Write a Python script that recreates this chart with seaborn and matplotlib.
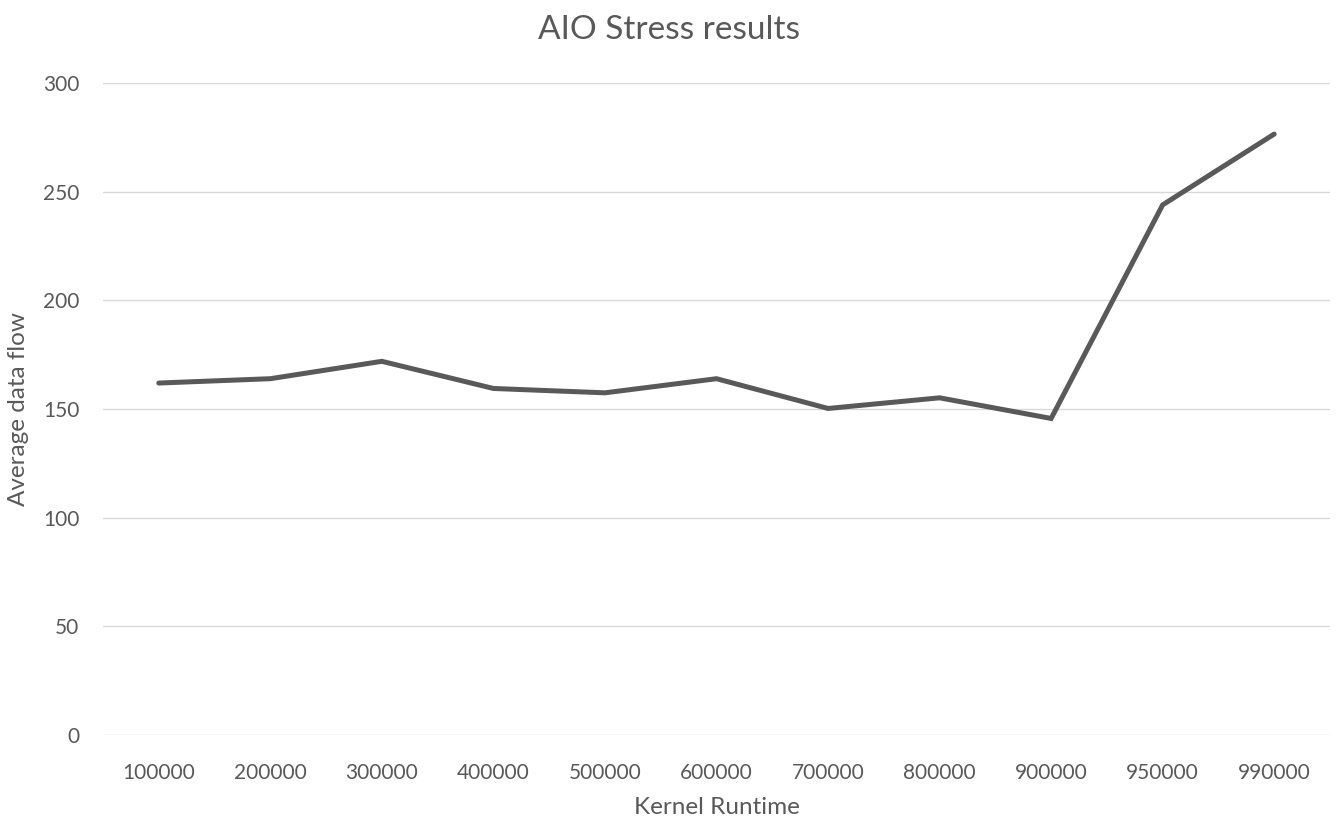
import matplotlib
matplotlib.use("Agg")
import matplotlib.pyplot as plt
import seaborn as sns
import pandas as pd

# Kernel runtime settings and the measured average data flow
runtimes = ["100000", "200000", "300000", "400000", "500000", "600000",
            "700000", "800000", "900000", "950000", "990000"]
avg_flow = [162, 164, 172, 159.5, 157.5, 164, 150.3, 155.2, 145.7, 244, 276.6]
y_ticks = [0, 50, 100, 150, 200, 250, 300]

df = pd.DataFrame({"runtime": runtimes, "flow": avg_flow})

sns.set_theme(style="white")
plt.rcParams["font.family"] = ["Lato", "DejaVu Sans"]

text_gray = "#595959"
fig = plt.figure(figsize=(13.38, 8.24), dpi=100)
ax = fig.add_axes([0.077, 0.108, 0.917, 0.791])

sns.lineplot(data=df, x="runtime", y="flow", ax=ax, color="#595959",
             linewidth=3.6, sort=False, solid_joinstyle="miter",
             solid_capstyle="round")

ax.set_ylim(0, 300)
ax.set_xlim(-0.5, len(runtimes) - 0.5)
ax.set_yticks(y_ticks)
ax.yaxis.grid(True, color="#d9d9d9", linewidth=1.0)
ax.set_axisbelow(True)
for s in ax.spines.values():
    s.set_visible(False)
ax.tick_params(axis="both", length=0, labelsize=15, labelcolor=text_gray)
ax.tick_params(axis="x", pad=20)
ax.tick_params(axis="y", pad=17)

ax.set_xlabel("Kernel Runtime", fontsize=17.5, color=text_gray, labelpad=10)
ax.set_ylabel("Average data flow", fontsize=17.5, color=text_gray, labelpad=10)
fig.suptitle("AIO Stress results", fontsize=24, color=text_gray, y=0.982)

fig.savefig("out.png", dpi=100, facecolor="white")
